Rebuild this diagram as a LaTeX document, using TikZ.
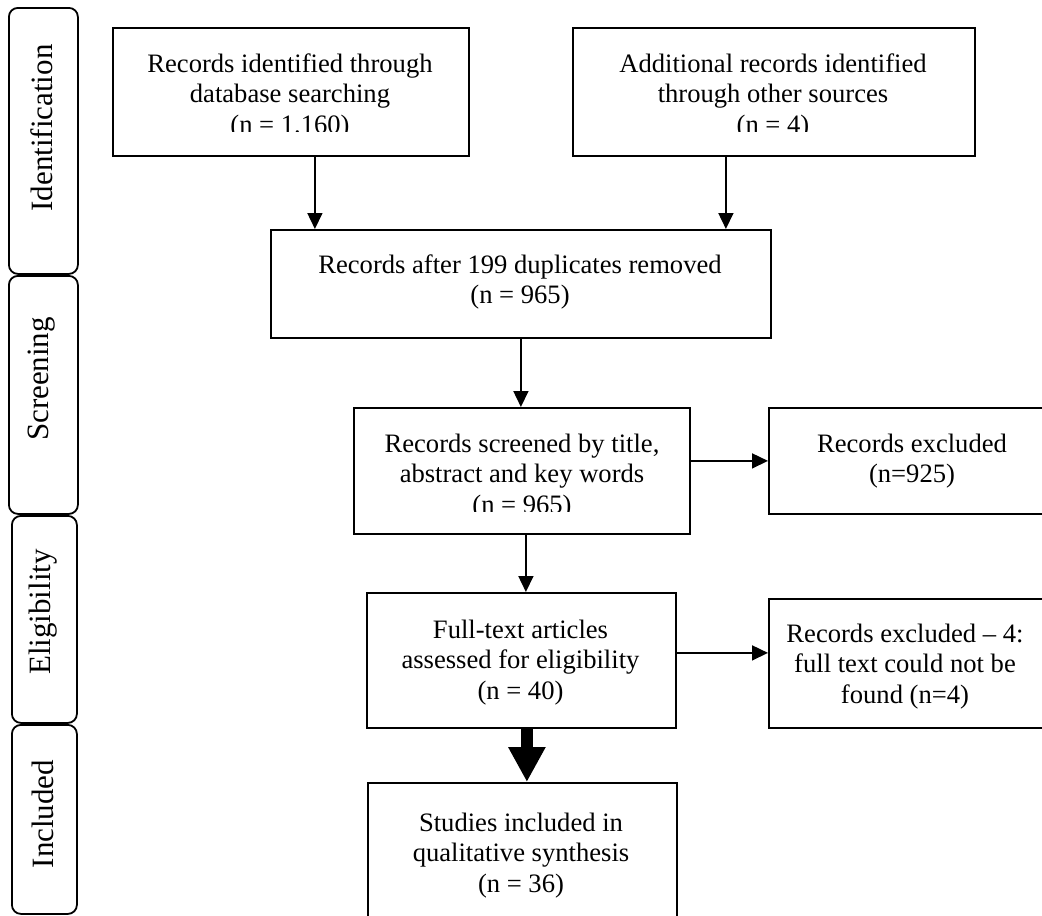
\documentclass[tikz,border=0pt]{standalone}
\usepackage{fontspec}
\setmainfont{Liberation Serif}
\usetikzlibrary{arrows.meta}
\newcommand{\mylines}[1]{\begin{tabular}[t]{@{}c@{}}#1\end{tabular}}
\begin{document}
\begin{tikzpicture}[x=1pt,y=-1pt,
  box/.style={draw, line width=1.8pt, rectangle, inner sep=0pt, anchor=north west},
  txt/.style={inner sep=0pt, anchor=base, font=\fontsize{26.6}{30.5}\selectfont},
  tab/.style={draw, line width=1.8pt, rounded corners=9pt, rectangle, inner sep=0pt, anchor=north west},
  tabtxt/.style={rotate=90, inner sep=0pt, font=\fontsize{31}{33}\selectfont},
  arr/.style={line width=1.6pt, -{Triangle[width=15pt,length=16pt]}},
  bigarr/.style={line width=12pt, -{Triangle[width=35pt,length=35pt]}},
]
\useasboundingbox (0,0) rectangle (1042,916);

% phase tabs
\node[tab, minimum width=69pt, minimum height=266pt] (tI) at (8,7) {};
\node[tab, minimum width=69pt, minimum height=238pt] (tS) at (8,275) {};
\node[tab, minimum width=65pt, minimum height=207pt] (tE) at (11,515) {};
\node[tab, minimum width=65pt, minimum height=189pt] (tN) at (11,724) {};
\node[tabtxt] (lI) at (42,128) {Identification};
\node[tabtxt] (lS) at (42,379) {Screening};
\node[tabtxt] (lE) at (43,612) {Eligibility};
\node[tabtxt] (lN) at (43,814) {Included};

% boxes
\node[box, minimum width=356pt, minimum height=128pt] (A) at (112,27) {};
\node[box, minimum width=402pt, minimum height=128pt] (B) at (572,27) {};
\node[box, minimum width=500pt, minimum height=108pt] (C) at (270,229) {};
\node[box, minimum width=336pt, minimum height=126pt] (D) at (353,407) {};
\node[box, minimum width=290pt, minimum height=106pt] (E) at (768,407) {};
\node[box, minimum width=309pt, minimum height=135pt] (F) at (366,592) {};
\node[box, minimum width=290pt, minimum height=129pt] (G) at (768,598) {};
\node[box, minimum width=309pt, minimum height=160pt] (H) at (367,782) {};

% texts
\begin{scope}
\clip (112,27) rectangle (468,131);
\node[txt] (tA) at (290,72) {\mylines{Records identified through\\database searching\\(n = 1.160)}};
\end{scope}
\begin{scope}
\clip (572,27) rectangle (974,131);
\node[txt] (tB) at (773,72) {\mylines{Additional records identified\\through other sources\\(n = 4)}};
\end{scope}
\node[txt] (tC) at (520,273) {\mylines{Records after 199 duplicates removed\\(n = 965)}};
\begin{scope}
\clip (353,407) rectangle (689,511);
\node[txt] (tD) at (522,452) {\mylines{Records screened by title,\\abstract and key words\\(n = 965)}};
\end{scope}
\node[txt] (tE2) at (912,452) {\mylines{Records excluded\\(n=925)}};
\node[txt] (tF) at (520.5,638) {\mylines{Full-text articles\\assessed for eligibility\\(n = 40)}};
\node[txt] (tG) at (905,642) {\mylines{Records excluded -- 4:\\full text could not be\\found (n=4)}};
\node[txt] (tH) at (521,831) {\mylines{Studies included in\\qualitative synthesis\\(n = 36)}};

% connectors
\draw[arr] ([xshift=24pt]A.south) -- ([xshift=24pt]A.south |- C.north);
\draw[arr] ([xshift=-48pt]B.south) -- ([xshift=-48pt]B.south |- C.north);
\draw[arr] (C.south) -- (C.south |- D.north);
\draw[arr] ([yshift=10pt]D.east) -- ([yshift=10pt]D.east -| E.west);
\draw[arr] ([xshift=4pt]D.south) -- ([xshift=4pt]D.south |- F.north);
\draw[arr] ([yshift=7.5pt]F.east) -- ([yshift=7.5pt]F.east -| G.west);
\draw[bigarr] ([xshift=5.5pt]F.south) -- ([xshift=5.5pt]F.south |- H.north);
\end{tikzpicture}
\end{document}
